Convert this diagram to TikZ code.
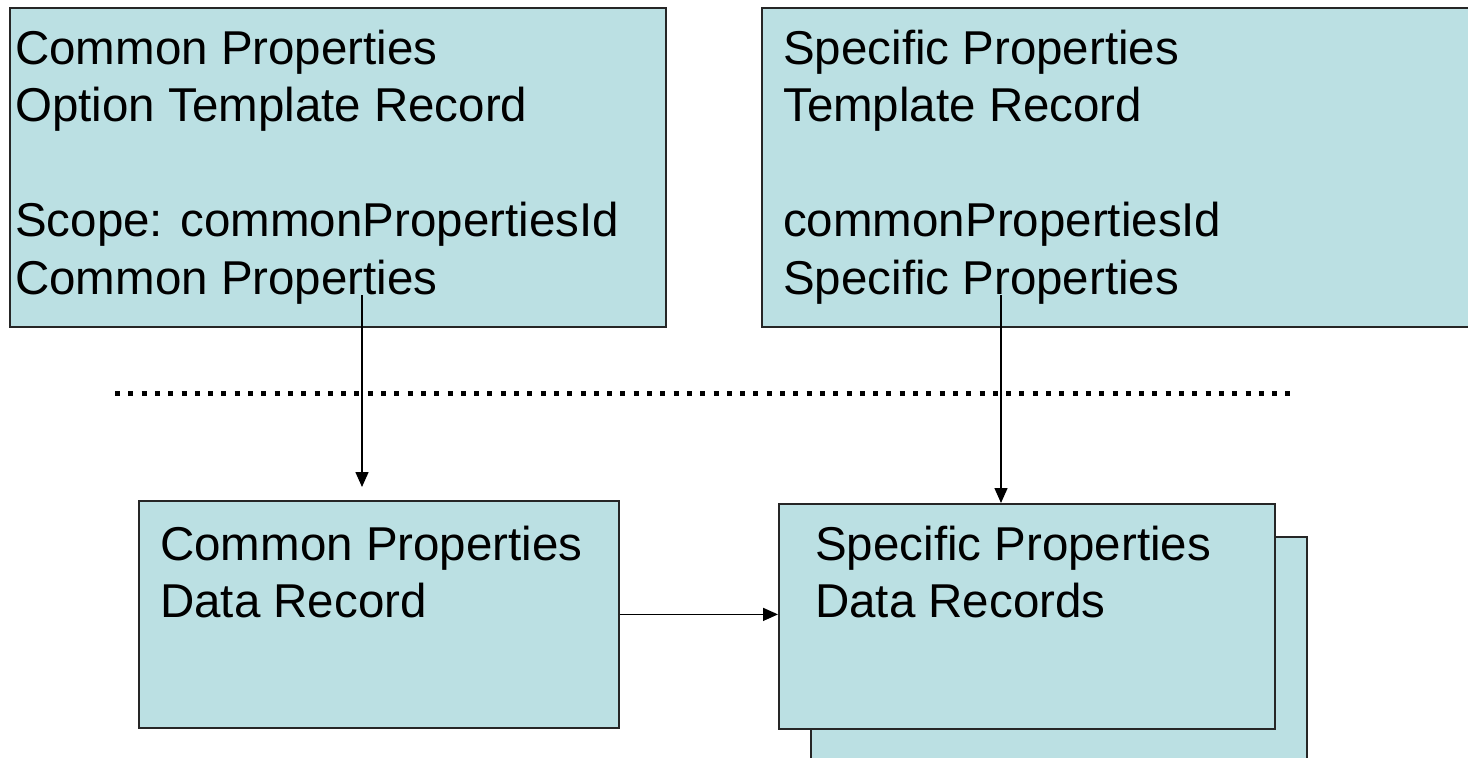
\documentclass[tikz,border=0pt]{standalone}
\usepackage{fontspec}
\setmainfont{Liberation Sans}
\usetikzlibrary{arrows.meta}
\definecolor{boxfill}{HTML}{BBE0E3}
\begin{document}
\begin{tikzpicture}[x=1pt,y=-1pt,
  rec/.style={draw=black!85,line width=1.8pt,fill=boxfill},
  lbl/.style={anchor=base west,inner sep=0pt,font=\fontsize{47.5}{57.5}\selectfont},
  conn/.style={line width=1.5pt,-{Triangle[length=15pt,width=13pt]}},
  sep/.style={line width=5pt,dash pattern=on 5pt off 8.3pt}]
\useasboundingbox (0,0) rectangle (1468,758);
\clip (0,0) rectangle (1468,758);
% top boxes
\draw[rec] (10,8) rectangle (666,327);
\node[inner sep=0pt] (b1) at (338,167.5) {};
\draw[rec] (762,8) rectangle (1500,327);
\node[inner sep=0pt] (b2) at (1131,167.5) {};
% labels of top boxes
\node[lbl] (t11) at (15,64) {Common Properties};
\node[lbl] (t12) at (15,121.5) {Option Template Record};
\node[lbl] (t13) at (15,236.5) {Scope: commonPropertiesId};
\node[lbl] (t14) at (15,294) {Common Properties};
\node[lbl] (t21) at (783,64) {Specific Properties};
\node[lbl] (t22) at (783,121.5) {Template Record};
\node[lbl] (t23) at (783,236.5) {commonPropertiesId};
\node[lbl] (t24) at (783,294) {Specific Properties};
% separator
\coordinate (s1) at (115,393);
\coordinate (s2) at (1294,393);
\draw[sep] (s1) -- (s2);
% bottom boxes
\node[rec,minimum width=480pt,minimum height=227pt,inner sep=0pt,anchor=north west] (b3) at (138,500) {};
\node[rec,minimum width=496pt,minimum height=225pt,inner sep=0pt,anchor=north west] (b4back) at (810,536) {};
\node[rec,minimum width=496pt,minimum height=225pt,inner sep=0pt,anchor=north west] (b4) at (778,503) {};
\node[lbl] (t31) at (160,560) {Common Properties};
\node[lbl] (t32) at (160,617) {Data Record};
\node[lbl] (t41) at (815,560) {Specific Properties};
\node[lbl] (t42) at (815,617) {Data Records};
% connectors
\coordinate (a1s) at (362,295);
\coordinate (a1e) at (362,487);
\draw[conn] (a1s) -- (a1e);
\coordinate (a2s) at (1001,295);
\draw[conn] (a2s) -- (a2s |- b4.north);
\draw[conn] (b3.east) -- (b4.west |- b3.east);
\end{tikzpicture}
\end{document}
